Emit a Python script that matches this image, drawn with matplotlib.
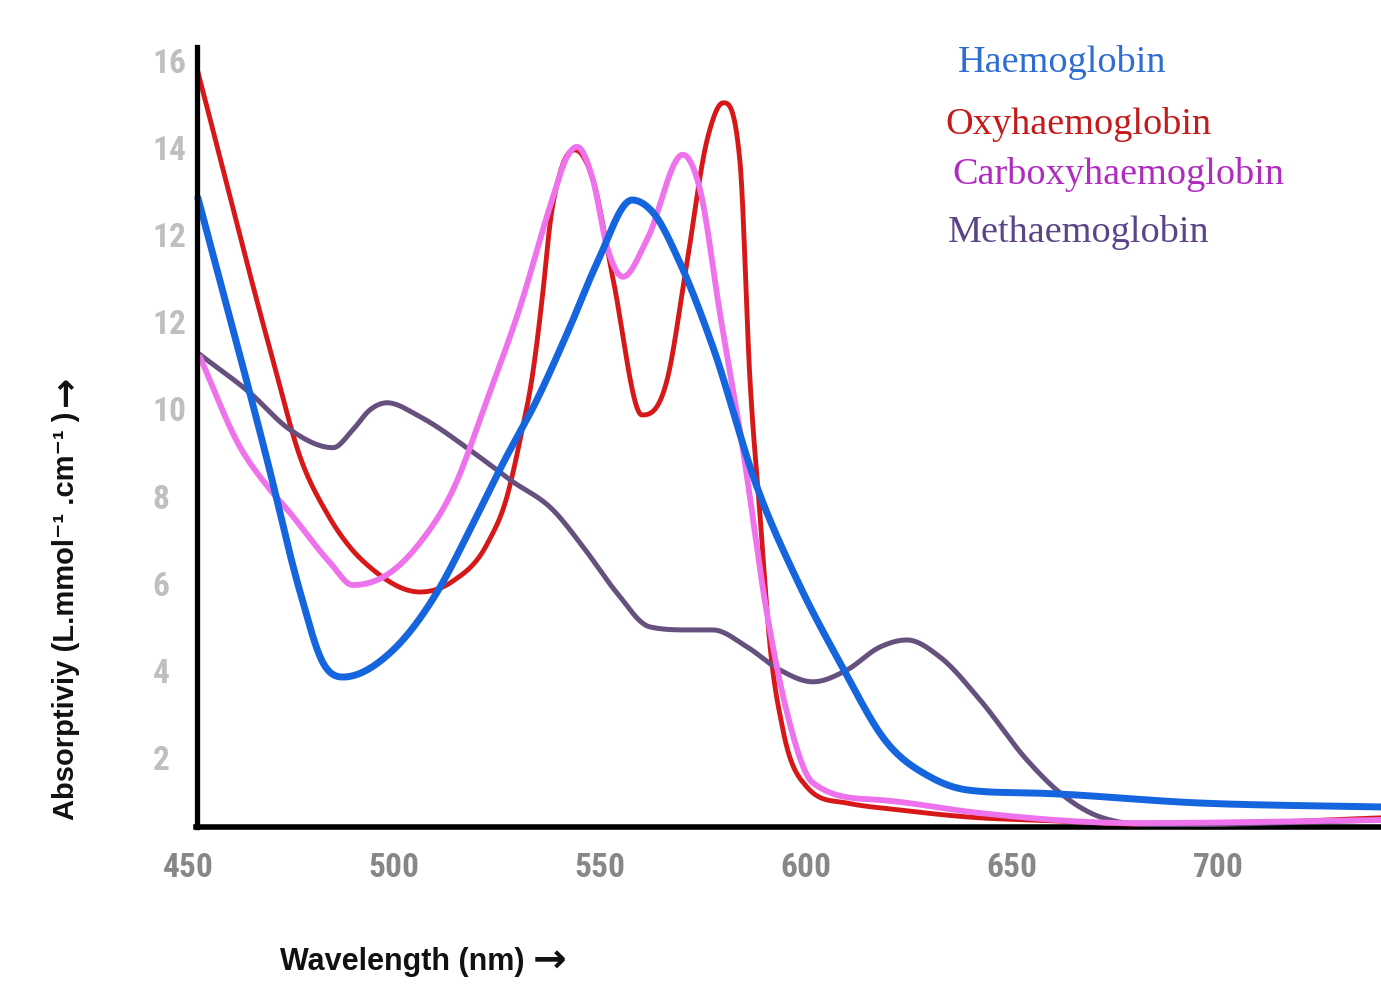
import numpy as np
import matplotlib
matplotlib.use("Agg")
import matplotlib.pyplot as plt

# ---------------- data ----------------
hb_nm = [452.4, 469.2, 477.2, 482.8, 487.6, 499.0, 510.8, 518.4, 526.5, 534.7,
         542.7, 549.3, 557.8, 562.9, 569.4, 577.4, 588.1, 597.8, 608.3, 619.7,
         630.1, 639.1, 655.1, 695.6, 739.5]
hb_val = [14.84, 8.83, 5.80, 4.17, 3.85, 4.40, 5.85, 7.22, 8.76, 10.21,
          11.88, 13.35, 14.79, 14.50, 13.35, 11.42, 8.21, 6.08, 4.17, 2.34,
          1.56, 1.26, 1.19, 0.96, 0.87]

oxy_nm = [452.4, 470.6, 477.2, 483.7, 489.3, 494.9, 506.3, 514.3, 522.6,
          527.4, 530.6, 533.7, 536.2, 537.9, 540.3, 543.9, 548.3, 553.2, 560.2,
          566.3, 571.1, 576.0, 579.9, 584.0, 586.4, 588.8, 591.3, 594.4, 600.2,
          609.9, 622.8, 642.2, 655.1, 687.6, 739.5]
oxy_val = [17.73, 11.12, 8.90, 7.61, 6.83, 6.31, 5.80, 6.05, 6.90,
           7.98, 9.29, 10.83, 12.73, 14.27, 15.41, 15.94, 15.25, 12.96, 9.86,
           10.67, 13.35, 16.17, 17.02, 15.64, 10.67, 7.61, 4.54, 2.64, 1.33,
           0.96, 0.80, 0.62, 0.57, 0.46, 0.62]

carboxy_nm = [452.9, 462.6, 469.4, 474.8, 484.5, 490.0, 499.0, 506.3, 514.3, 522.6,
              530.6, 538.6, 542.0, 544.4, 548.3, 551.7, 555.6, 561.4, 570.1, 574.3,
              579.1, 584.7, 590.5, 595.4, 601.7, 618.0, 642.2, 679.4, 739.5]
carboxy_val = [11.19, 9.13, 8.21, 7.61, 6.47, 5.96, 6.24, 6.93, 8.14, 10.21,
               12.34, 14.86, 15.78, 16.01, 15.25, 13.72, 13.03, 13.88, 15.83, 15.02,
               12.20, 9.06, 5.32, 3.03, 1.42, 1.03, 0.73, 0.50, 0.57]

met_nm = [452.4, 465.0, 474.8, 485.2, 490.0, 494.2, 498.3, 506.3, 518.4, 528.2,
          538.6, 546.4, 554.1, 562.1, 571.8, 577.4, 585.7, 593.7, 601.7, 609.9,
          618.0, 624.5, 632.5, 642.2, 653.6, 661.7, 671.4, 687.6, 739.5]
met_val = [11.28, 10.37, 9.52, 9.11, 9.52, 9.98, 10.14, 9.82, 9.06, 8.37,
           7.68, 6.77, 5.78, 5.00, 4.93, 4.93, 4.54, 4.01, 3.74, 4.01,
           4.54, 4.70, 4.31, 3.33, 1.95, 1.19, 0.64, 0.46, 0.57]

series_names = ["Haemoglobin", "Oxyhaemoglobin", "Carboxyhaemoglobin", "Methaemoglobin"]

x_ticks = [450, 500, 550, 600, 650, 700]
y_ticks = [2, 4, 6, 8, 10, 12, 14, 16, 18]
y_tick_labels = ["2", "4", "6", "8", "10", "12", "12", "14", "16"]


# ---------------- smooth drawing helper (monotone cubic, Fritsch-Carlson) ----------------
def smooth(x, y, n=2000):
    x = np.asarray(x, float)
    y = np.asarray(y, float)
    h = np.diff(x)
    d = np.diff(y) / h
    m = np.zeros_like(y)
    m[0] = d[0]
    m[-1] = d[-1]
    for k in range(1, len(x) - 1):
        if d[k - 1] * d[k] <= 0:
            m[k] = 0.0
        else:
            m[k] = (h[k - 1] * d[k] + h[k] * d[k - 1]) / (h[k - 1] + h[k])
    for k in range(len(d)):
        if d[k] == 0:
            m[k] = m[k + 1] = 0.0
            continue
        a = m[k] / d[k]
        b = m[k + 1] / d[k]
        if a < 0:
            m[k] = 0.0
            a = 0.0
        if b < 0:
            m[k + 1] = 0.0
            b = 0.0
        s = a * a + b * b
        if s > 9:
            tau = 3.0 / np.sqrt(s)
            m[k] = tau * a * d[k]
            m[k + 1] = tau * b * d[k]
    xs = np.linspace(x[0], x[-1], n)
    idx = np.clip(np.searchsorted(x, xs) - 1, 0, len(x) - 2)
    t = (xs - x[idx]) / h[idx]
    h00 = 2 * t**3 - 3 * t**2 + 1
    h10 = t**3 - 2 * t**2 + t
    h01 = -2 * t**3 + 3 * t**2
    h11 = t**3 - t**2
    ys = (h00 * y[idx] + h10 * h[idx] * m[idx] + h01 * y[idx + 1]
          + h11 * h[idx] * m[idx + 1])
    return xs, ys


W, H = 1381, 985
fig = plt.figure(figsize=(W / 100, H / 100), dpi=100)
fig.patch.set_facecolor("white")

left_px, bottom_px, top_px = 188, 827, 47
ax = fig.add_axes([left_px / W, (H - bottom_px) / H,
                   (W - left_px) / W, (bottom_px - top_px) / H])

x0 = 450.0
x_axis_at = 452.2
x1 = x0 + (W - left_px) / 4.12
ax.set_xlim(x0, x1)
ax.set_ylim(0.41, 18.3)

c_blue = "#1565de"
c_red = "#d61818"
c_pink = "#ee72ec"
c_purple = "#65507e"

ax.plot(*smooth(oxy_nm, oxy_val), color=c_red, lw=3.5, solid_capstyle="round", zorder=3)
ax.plot(*smooth(met_nm, met_val), color=c_purple, lw=3.6, solid_capstyle="round", zorder=3)
ax.plot(*smooth(carboxy_nm, carboxy_val), color=c_pink, lw=4.2, solid_capstyle="round", zorder=4)
ax.plot(*smooth(hb_nm, hb_val), color=c_blue, lw=5.0, solid_capstyle="round", zorder=5)

for s in ["top", "right"]:
    ax.spines[s].set_visible(False)
ax.spines["left"].set_position(("data", x_axis_at))
ax.spines["left"].set_linewidth(3.8)
ax.spines["bottom"].set_linewidth(4.0)
ax.spines["bottom"].set_bounds(x_axis_at - 0.3, x1)
ax.spines["left"].set_zorder(6)
ax.spines["bottom"].set_zorder(2)

tick_font = ["Liberation Sans Narrow", "Roboto Condensed", "Liberation Sans", "DejaVu Sans"]
ax.set_yticks(y_ticks)
ax.set_yticklabels(y_tick_labels, family=tick_font, fontsize=24, fontweight="bold",
                   color="#bfbfbf", ha="left")
ax.tick_params(axis="y", length=0, pad=32)
ax.set_xticks(x_ticks)
ax.set_xticklabels([str(v) for v in x_ticks], family=tick_font, fontsize=24,
                   fontweight="bold", color="#878787")
ax.tick_params(axis="x", length=0, pad=18)

sans = ["Liberation Sans", "DejaVu Sans"]
arrow_font = ["DejaVu Sans"]
xt = fig.text(280 / W, 1 - 962 / H, "Wavelength (nm)", family=sans, fontsize=22,
              fontweight="bold", ha="left", va="center", color="#111111")
yt = fig.text(66 / W, 1 - 820 / H, "Absorptiviy (L.mmol\u207b\u00b9 .cm\u207b\u00b9 )",
              family=sans, fontsize=21, fontweight="bold", rotation=90,
              ha="center", va="bottom", color="#111111")

serif = ["Liberation Serif", "DejaVu Serif"]
legend_pos = [(958, 62), (945, 124), (952, 174), (948, 232)]
legend_cols = ["#2f6ed0", "#c41a1a", "#b02cc0", "#5b4488"]
for name, (px, py), col in zip(series_names, legend_pos, legend_cols):
    fig.text(px / W, 1 - py / H, name, family=serif, fontsize=27.5, color=col,
             ha="left", va="center")

# arrows placed right after the axis titles
fig.canvas.draw()
r = fig.canvas.get_renderer()
bx = xt.get_window_extent(r)
fig.text((bx.x1 + 8) / W, 1 - 962 / H, "\u2192", family=arrow_font, fontsize=29,
         fontweight="bold", ha="left", va="center", color="#111111")
by = yt.get_window_extent(r)
fig.text(66 / W, (by.y1 + 6) / H, "\u2192", family=arrow_font, fontsize=26,
         fontweight="bold", rotation=90, ha="center", va="bottom", color="#111111")

fig.savefig("out.png", dpi=100, facecolor="white")
